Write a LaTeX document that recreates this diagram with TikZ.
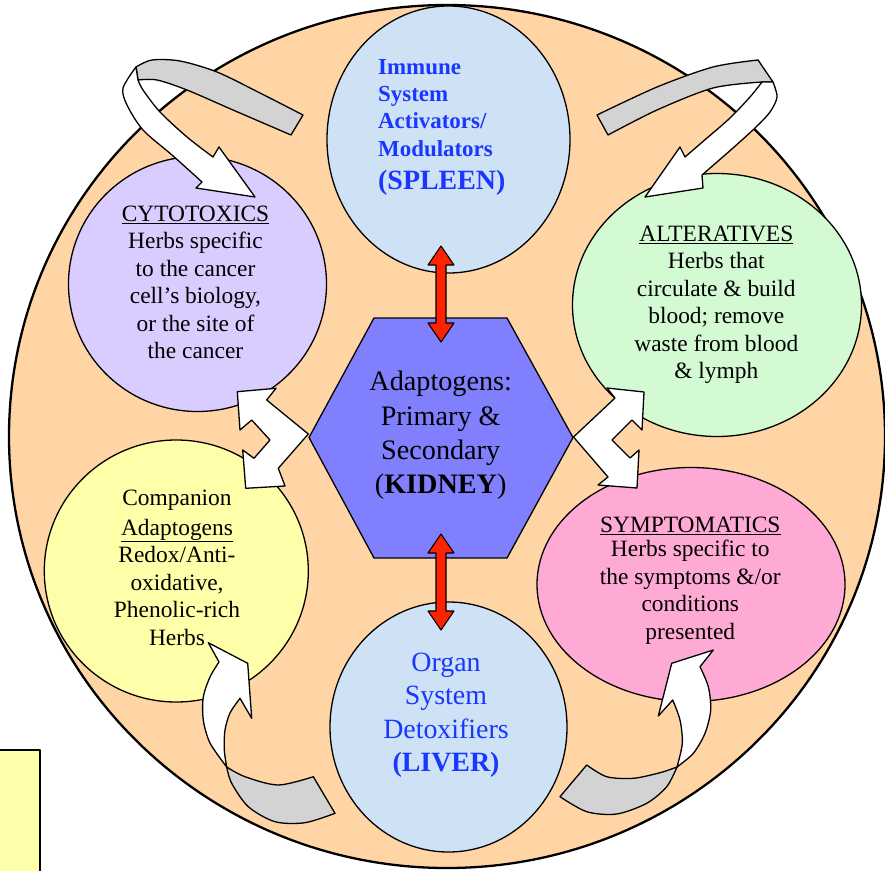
\documentclass[tikz,border=0pt]{standalone}
\usepackage{fontspec}
\setmainfont{Liberation Serif}
\usetikzlibrary{shapes.geometric}
\definecolor{peach}{RGB}{255,213,165}
\definecolor{lav}{RGB}{217,204,255}
\definecolor{mint}{RGB}{212,250,212}
\definecolor{lemon}{RGB}{255,255,170}
\definecolor{rose}{RGB}{255,170,212}
\definecolor{ice}{RGB}{206,225,245}
\definecolor{hexblue}{RGB}{128,128,255}
\definecolor{txtblue}{RGB}{25,55,255}
\definecolor{ribbon}{RGB}{211,211,211}
\definecolor{arrred}{RGB}{255,34,0}
\newcommand\dblred[2]{\path[redarr] (#1,#2) -- ++(13,19) -- ++(-8,0) -- ++(0,58) -- ++(8,0) -- ++(-13,19) -- ++(-13,-19) -- ++(8,0) -- ++(0,-58) -- ++(-8,0) -- cycle;}
\begin{document}
\begin{tikzpicture}[x=1bp,y=-1bp,line join=round,
  blob/.style={ellipse, draw, line width=1.3bp, inner sep=0pt},
  txtblock/.style={font=\fontsize{23.5}{27.6}\selectfont, align=center, inner sep=0pt, anchor=north},
  ribbonfront/.style={fill=white, draw, line width=1.3bp},
  ribbonback/.style={fill=ribbon, draw, line width=1.3bp},
  redarr/.style={fill=arrred, draw, line width=1.1bp}]
\useasboundingbox (0,0) rectangle (885,871);
\clip (0,0) rectangle (885,871);
% outer disc and small box
\node[blob, fill=peach, line width=2.3bp, minimum width=876bp, minimum height=863bp] (outer) at (447,436.5) {};
\path[draw, fill=lemon, line width=2.5bp] (-10,750) rectangle (40,890);
% circles
\node[blob, fill=ice, minimum width=243bp, minimum height=267bp] (spleen) at (448.5,139.5) {};
\node[blob, fill=ice, minimum width=237bp, minimum height=250bp] (liver) at (448.5,727) {};
\node[blob, fill=lav, minimum width=258bp, minimum height=255bp] (cyto) at (197.5,284) {};
\node[blob, fill=mint, minimum width=289bp, minimum height=263bp] (alter) at (717,305) {};
\node[blob, fill=lemon, minimum width=264bp, minimum height=262bp] (comp) at (176.3,571) {};
\node[blob, fill=rose, minimum width=308bp, minimum height=234bp] (sympt) at (691,584.5) {};
% curly ribbon arrows
\path[ribbonback] plot[smooth] coordinates {(303,115) (260,93) (217,72) (180,61) (152,60) (136,67)} -- (138,80) -- plot[smooth] coordinates {(138,80) (157,80) (187,90) (233,110) (291,135)} -- cycle;
\path[ribbonfront] plot[smooth] coordinates {(136,67) (123,88) (127,105) (143,130) (172,155) (202,182)} -- (196,188) -- (255,197) -- (219,147) -- (213,157) -- plot[smooth] coordinates {(213,157) (187,137) (160,112) (143,90) (138,80)} -- cycle;
\path[ribbonback] plot[smooth] coordinates {(597,115) (657,87) (713,67) (758,60)} -- (773,82) -- plot[smooth] coordinates {(762,82) (713,88) (657,110) (608,135)} -- cycle;
\path[ribbonfront] plot[smooth] coordinates {(773,82) (777,97) (770,112) (755,128) (733,148) (702,175)} -- (703,188) -- (645,197) -- (680,147) -- (685,157) -- plot[smooth] coordinates {(685,157) (707,138) (730,118) (750,97) (762,82)} -- cycle;
\path[ribbonback] plot[smooth] coordinates {(226.7,767) (245,776.7) (278.3,785) (313.3,776.7)} -- (335,813.3) -- plot[smooth] coordinates {(335,813.3) (305,822.7) (275,821.7) (248.3,806.7) (231.7,783.3) (226.7,767)} -- cycle;
\path[ribbonfront] plot[smooth] coordinates {(226.7,767) (210,743) (203.3,720) (203.3,697) (210,677) (219,662)} -- (208.3,642.7) -- (247.7,663.3) -- (251.7,718.3) -- (240,698.3) -- plot[smooth] coordinates {(240,698.3) (230,713) (225,730) (224.3,750) (226.7,767)} -- cycle;
\path[ribbonback] plot[smooth] coordinates {(677,767) (660,772.7) (633.3,778.3) (606.7,776.7) (586.7,765)} -- (560,796.7) -- plot[smooth] coordinates {(560,796.7) (586.7,811.7) (616.7,814) (646.7,803.3) (666.7,786.7) (677,767)} -- cycle;
\path[ribbonfront] plot[smooth] coordinates {(677,767) (682.3,743.3) (680,720) (672.7,700)} -- (658.3,716) -- (671.7,663.3) -- (713.3,650) -- (700,666.7) -- plot[smooth] coordinates {(700,666.7) (708.3,686.7) (710.7,710) (705,733.3) (693.3,753.3) (677,767)} -- cycle;
% zigzag double arrows
\path[ribbonfront] (237.3,391.7) -- (276,388.3) -- (266.7,400) -- (308.3,434) -- (278.3,468.3) -- (285,486) -- (245.7,488.3) -- (242.7,450) -- (254,458.3) -- (270,440) -- (251.7,420) -- (240,430) -- cycle;
\path[ribbonfront] (607,388) -- (644,392) -- (642,430) -- (632,420) -- (612,440) -- (630,458) -- (639,450) -- (637,488) -- (598,485) -- (608,477) -- (573.5,437) -- (615,398) -- cycle;
% hexagon
\path[draw, fill=hexblue, line width=1.3bp] (374,318) -- (507,318) -- (573,437.5) -- (507,558) -- (374,558) -- (309,437.5) -- cycle;
% red double arrows
\dblred{441}{246}
\dblred{441}{534}
% texts
\node[txtblock] (cytoText) at (195.5,205.7) {\underline{CYTOTOXICS}\\Herbs specific\\to the cancer\\cell’s biology,\\or the site of\\the cancer};
\node[txtblock] (alterText) at (716.3,225.7) {\underline{ALTERATIVES}\\Herbs that\\circulate \& build\\blood; remove\\waste from blood\\\& lymph};
\node[txtblock] (compText) at (177,490) {Companion\\[2bp]\underline{Adaptogens}\\Redox/Anti-\\oxidative,\\Phenolic-rich\\Herbs};
\node[txtblock] (symptText) at (690.3,516.7) {\underline{SYMPTOMATICS}\\[-3bp]Herbs specific to\\the symptoms \&/or\\conditions\\presented};
\node[txtblock, font=\fontsize{28.3}{34.2}\selectfont] (kidneyText) at (440.7,371.2) {Adaptogens:\\Primary \&\\Secondary\\(\textbf{KIDNEY})};
\node[inner sep=0pt, anchor=north west, align=left, text=txtblue, font=\bfseries\fontsize{23}{27.6}\selectfont] (spleenText) at (378,58.8) {Immune\\System\\Activators/\\Modulators\\[6bp]{\fontsize{28}{33}\selectfont(SPLEEN)}};
\node[txtblock, text=txtblue, font=\fontsize{28}{33.6}\selectfont] (liverText) at (446,652.4) {Organ\\System\\Detoxifiers\\\textbf{(LIVER)}};
\end{tikzpicture}
\end{document}
